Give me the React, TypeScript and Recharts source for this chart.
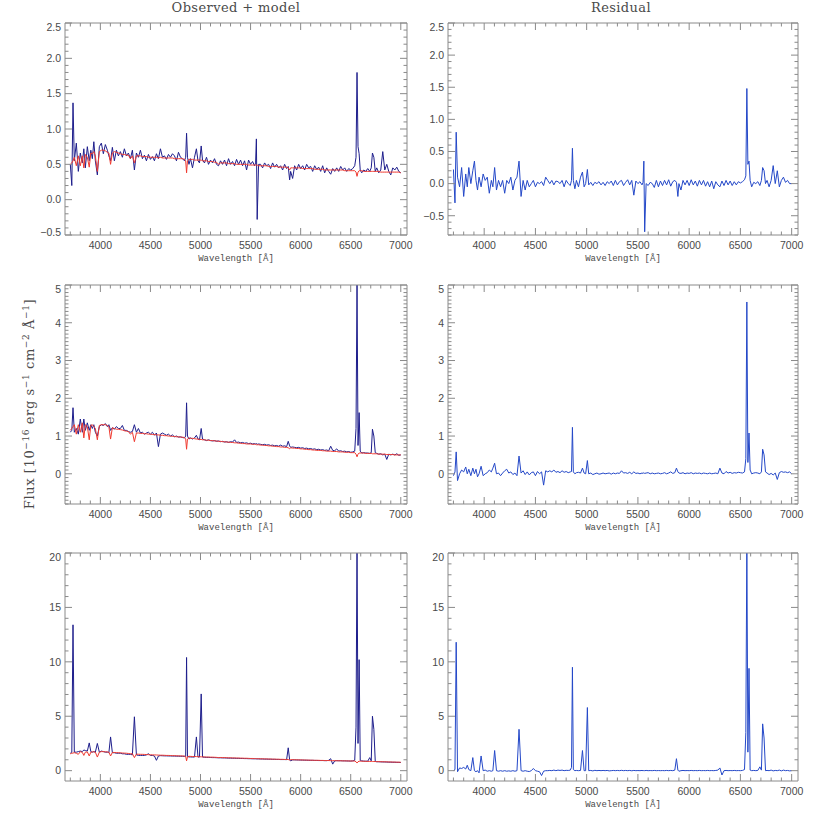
import { LineChart, Line, XAxis, YAxis } from 'recharts';

// wavelength grid (Angstrom), denser around the emission lines
const wave = [
  3700, 3715, 3727, 3740, 3760, 3780, 3800, 3820, 3835, 3850,
  3870, 3889, 3905, 3920, 3935, 3950, 3970, 3990, 4010, 4030,
  4050, 4070, 4085, 4102, 4120, 4140, 4160, 4180, 4200, 4220,
  4240, 4260, 4280, 4300, 4320, 4340, 4360, 4380, 4400, 4420,
  4440, 4460, 4480, 4500, 4520, 4540, 4560, 4580, 4600, 4620,
  4640, 4660, 4680, 4700, 4720, 4740, 4760, 4780, 4800, 4820,
  4840, 4852, 4861, 4870, 4885, 4900, 4920, 4940, 4959, 4975,
  4990, 5007, 5020, 5040, 5060, 5080, 5100, 5120, 5140, 5160,
  5180, 5200, 5220, 5240, 5260, 5280, 5300, 5320, 5340, 5360,
  5380, 5400, 5420, 5440, 5460, 5480, 5500, 5520, 5540, 5550,
  5558, 5566, 5580, 5600, 5620, 5640, 5660, 5680, 5700, 5720,
  5740, 5760, 5780, 5800, 5820, 5840, 5860, 5876, 5890, 5900,
  5920, 5940, 5960, 5980, 6000, 6020, 6040, 6060, 6080, 6100,
  6120, 6140, 6160, 6180, 6200, 6220, 6240, 6260, 6280, 6300,
  6320, 6340, 6360, 6380, 6400, 6420, 6440, 6460, 6480, 6500,
  6520, 6540, 6553, 6563, 6573, 6584, 6595, 6610, 6630, 6650,
  6670, 6690, 6705, 6717, 6731, 6745, 6760, 6780, 6800, 6820,
  6840, 6860, 6880, 6900, 6920, 6940, 6960, 6980, 7000,
];

// top row
const obs1 = [
  0.50, 0.20, 1.37, 0.55, 0.80, 0.40, 0.66, 0.52, 0.72, 0.45,
  0.75, 0.55, 0.70, 0.58, 0.82, 0.55, 0.35, 0.75, 0.80, 0.65,
  0.78, 0.70, 0.62, 0.55, 0.74, 0.55, 0.70, 0.62, 0.68, 0.60,
  0.72, 0.62, 0.66, 0.58, 0.70, 0.42, 0.66, 0.60, 0.70, 0.58,
  0.63, 0.55, 0.64, 0.57, 0.61, 0.55, 0.65, 0.58, 0.72, 0.60,
  0.62, 0.57, 0.64, 0.60, 0.65, 0.62, 0.55, 0.67, 0.60, 0.58,
  0.55, 0.60, 0.94, 0.60, 0.50, 0.58, 0.45, 0.60, 0.72, 0.55,
  0.52, 0.76, 0.56, 0.52, 0.60, 0.50, 0.56, 0.52, 0.58, 0.50,
  0.48, 0.55, 0.50, 0.56, 0.48, 0.58, 0.50, 0.54, 0.48, 0.57,
  0.50, 0.56, 0.48, 0.55, 0.42, 0.56, 0.50, 0.54, 0.48, 0.52,
  0.86, -0.28, 0.50, 0.50, 0.45, 0.52, 0.48, 0.50, 0.44, 0.52,
  0.46, 0.50, 0.45, 0.48, 0.42, 0.50, 0.44, 0.47, 0.28, 0.40,
  0.30, 0.48, 0.42, 0.50, 0.44, 0.48, 0.42, 0.50, 0.45, 0.47,
  0.40, 0.48, 0.43, 0.46, 0.40, 0.48, 0.38, 0.45, 0.40, 0.36,
  0.44, 0.40, 0.45, 0.40, 0.47, 0.42, 0.45, 0.40, 0.44, 0.42,
  0.44, 0.48, 0.60, 1.80, 0.75, 0.65, 0.42, 0.38, 0.42, 0.40,
  0.44, 0.40, 0.45, 0.66, 0.60, 0.40, 0.45, 0.38, 0.42, 0.68,
  0.42, 0.50, 0.40, 0.35, 0.45, 0.42, 0.46, 0.40, 0.38,
];
const mod1 = [
  0.50, 0.52, 0.55, 0.60, 0.48, 0.62, 0.48, 0.62, 0.45, 0.64,
  0.60, 0.46, 0.66, 0.65, 0.68, 0.62, 0.40, 0.68, 0.70, 0.70,
  0.69, 0.67, 0.66, 0.50, 0.66, 0.68, 0.67, 0.66, 0.65, 0.64,
  0.64, 0.63, 0.63, 0.58, 0.62, 0.52, 0.62, 0.62, 0.62, 0.61,
  0.61, 0.61, 0.60, 0.60, 0.60, 0.60, 0.60, 0.59, 0.60, 0.59,
  0.59, 0.59, 0.59, 0.59, 0.59, 0.58, 0.58, 0.58, 0.58, 0.58,
  0.57, 0.55, 0.38, 0.55, 0.57, 0.57, 0.57, 0.56, 0.56, 0.56,
  0.56, 0.56, 0.55, 0.55, 0.55, 0.54, 0.54, 0.54, 0.53, 0.53,
  0.50, 0.52, 0.52, 0.52, 0.52, 0.51, 0.51, 0.51, 0.51, 0.50,
  0.50, 0.50, 0.50, 0.50, 0.50, 0.49, 0.49, 0.49, 0.49, 0.49,
  0.49, 0.49, 0.48, 0.48, 0.48, 0.48, 0.48, 0.47, 0.47, 0.47,
  0.47, 0.47, 0.46, 0.46, 0.46, 0.46, 0.46, 0.45, 0.42, 0.45,
  0.45, 0.45, 0.45, 0.45, 0.45, 0.44, 0.44, 0.44, 0.44, 0.44,
  0.44, 0.43, 0.43, 0.43, 0.43, 0.43, 0.42, 0.42, 0.42, 0.42,
  0.42, 0.42, 0.42, 0.42, 0.42, 0.42, 0.41, 0.41, 0.41, 0.41,
  0.41, 0.41, 0.39, 0.33, 0.39, 0.41, 0.41, 0.41, 0.40, 0.40,
  0.40, 0.40, 0.40, 0.40, 0.40, 0.40, 0.40, 0.40, 0.39, 0.39,
  0.39, 0.39, 0.39, 0.39, 0.39, 0.39, 0.39, 0.39, 0.38,
];
const res1 = [
  0.22, -0.30, 0.80, 0.10, -0.05, 0.25, -0.20, 0.15, -0.05, 0.25,
  0.00, 0.20, 0.35, 0.05, -0.10, 0.10, -0.05, 0.15, 0.05, 0.10,
  -0.15, 0.05, -0.05, 0.25, -0.10, 0.05, -0.05, 0.05, -0.15, 0.05,
  0.00, 0.10, -0.10, 0.05, 0.10, 0.35, -0.20, 0.05, -0.10, 0.05,
  -0.05, 0.00, 0.05, -0.05, 0.02, 0.00, 0.03, -0.03, 0.10, 0.05,
  0.00, 0.05, -0.02, 0.04, 0.03, 0.00, 0.05, -0.05, 0.05, 0.00,
  -0.03, 0.05, 0.55, 0.05, -0.08, 0.05, -0.05, 0.10, 0.18, -0.05,
  0.00, 0.22, -0.02, 0.02, -0.03, 0.02, 0.00, 0.03, -0.02, 0.02,
  -0.03, 0.03, 0.00, 0.04, -0.03, 0.05, -0.02, 0.03, 0.05, -0.03,
  0.02, 0.06, -0.02, 0.05, -0.18, 0.04, 0.00, 0.03, -0.02, 0.02,
  0.35, -0.75, 0.00, -0.03, 0.02, 0.00, -0.06, 0.05, -0.05, 0.04,
  -0.03, 0.05, -0.02, 0.06, -0.04, 0.03, 0.05, 0.02, -0.20, 0.00,
  -0.10, 0.05, -0.02, 0.05, -0.03, 0.06, -0.02, 0.04, -0.04, 0.05,
  -0.02, 0.05, -0.04, 0.03, -0.05, 0.04, -0.08, 0.03, -0.02, -0.05,
  0.04, -0.03, 0.05, -0.02, 0.04, -0.03, 0.03, -0.02, 0.03, 0.01,
  0.03, 0.06, 0.12, 1.48, 0.30, 0.35, 0.05, -0.05, 0.02, 0.00,
  0.03, -0.03, 0.05, 0.25, 0.20, 0.00, 0.05, -0.05, 0.05, 0.28,
  0.00, 0.20, -0.05, 0.05, 0.10, 0.02, 0.05, 0.00, 0.00,
];

// middle row
const obs2 = [
  1.10, 1.15, 1.75, 1.10, 1.20, 1.05, 1.45, 1.10, 1.45, 1.15,
  1.35, 1.15, 1.30, 1.20, 1.30, 1.10, 1.00, 1.25, 1.30, 1.28,
  1.33, 1.25, 1.30, 1.15, 1.22, 1.18, 1.25, 1.20, 1.20, 1.28,
  1.15, 1.15, 1.12, 1.10, 1.12, 1.30, 1.10, 1.20, 1.08, 1.10,
  1.05, 1.08, 1.10, 1.05, 1.10, 1.02, 1.08, 0.72, 1.05, 1.08,
  1.05, 1.02, 1.05, 1.00, 1.03, 0.98, 1.00, 0.97, 0.98, 0.96,
  0.95, 1.00, 1.88, 1.00, 0.92, 0.95, 0.92, 0.95, 1.02, 0.92,
  0.90, 1.20, 0.92, 0.90, 0.88, 0.90, 0.88, 0.87, 0.88, 0.86,
  0.87, 0.85, 0.86, 0.84, 0.85, 0.83, 0.85, 0.84, 0.90, 0.83,
  0.84, 0.82, 0.83, 0.81, 0.82, 0.80, 0.81, 0.79, 0.80, 0.79,
  0.80, 0.78, 0.79, 0.78, 0.77, 0.78, 0.76, 0.77, 0.75, 0.76,
  0.74, 0.75, 0.73, 0.76, 0.73, 0.74, 0.72, 0.86, 0.74, 0.70,
  0.71, 0.70, 0.69, 0.70, 0.68, 0.69, 0.67, 0.68, 0.66, 0.67,
  0.65, 0.66, 0.64, 0.65, 0.63, 0.64, 0.62, 0.63, 0.61, 0.73,
  0.62, 0.61, 0.66, 0.60, 0.61, 0.59, 0.60, 0.58, 0.59, 0.57,
  0.58, 0.60, 1.20, 5.05, 0.75, 1.62, 0.60, 0.55, 0.56, 0.55,
  0.55, 0.54, 0.56, 1.18, 1.00, 0.56, 0.54, 0.52, 0.53, 0.50,
  0.52, 0.38, 0.52, 0.50, 0.52, 0.50, 0.53, 0.49, 0.50,
];
const mod2 = [
  1.15, 1.20, 1.25, 1.30, 1.05, 1.30, 1.10, 1.35, 0.95, 1.30,
  1.25, 0.90, 1.28, 1.30, 1.25, 1.20, 0.90, 1.28, 1.30, 1.30,
  1.30, 1.28, 1.25, 0.92, 1.22, 1.20, 1.18, 1.18, 1.17, 1.16,
  1.14, 1.13, 1.12, 1.05, 1.10, 0.85, 1.08, 1.08, 1.07, 1.07,
  1.06, 1.06, 1.05, 1.05, 1.04, 1.04, 1.03, 1.03, 1.02, 1.02,
  1.01, 1.01, 1.00, 1.00, 0.99, 0.99, 0.98, 0.98, 0.97, 0.97,
  0.96, 0.92, 0.65, 0.92, 0.95, 0.94, 0.94, 0.93, 0.92, 0.92,
  0.91, 0.91, 0.90, 0.90, 0.89, 0.89, 0.88, 0.88, 0.87, 0.87,
  0.86, 0.86, 0.85, 0.85, 0.84, 0.84, 0.83, 0.83, 0.82, 0.82,
  0.81, 0.81, 0.80, 0.80, 0.79, 0.79, 0.79, 0.78, 0.78, 0.78,
  0.77, 0.77, 0.77, 0.76, 0.76, 0.75, 0.75, 0.74, 0.74, 0.73,
  0.73, 0.72, 0.72, 0.71, 0.71, 0.70, 0.70, 0.69, 0.66, 0.69,
  0.68, 0.68, 0.67, 0.67, 0.66, 0.66, 0.65, 0.65, 0.64, 0.64,
  0.63, 0.63, 0.62, 0.62, 0.62, 0.61, 0.61, 0.60, 0.60, 0.60,
  0.59, 0.59, 0.59, 0.58, 0.58, 0.58, 0.57, 0.57, 0.57, 0.56,
  0.56, 0.56, 0.52, 0.45, 0.52, 0.55, 0.55, 0.55, 0.55, 0.54,
  0.54, 0.54, 0.54, 0.53, 0.53, 0.53, 0.53, 0.52, 0.52, 0.52,
  0.52, 0.51, 0.51, 0.51, 0.51, 0.50, 0.50, 0.50, 0.50,
];
const res2 = [
  -0.05, 0.05, 0.58, -0.18, 0.00, 0.10, 0.05, 0.18, 0.00, 0.12,
  -0.05, 0.15, 0.00, 0.12, -0.08, 0.00, 0.20, -0.05, 0.00, 0.03,
  0.10, 0.05, 0.15, 0.28, 0.00, 0.02, -0.05, 0.02, 0.08, 0.12,
  0.02, 0.05, -0.02, 0.02, -0.05, 0.47, 0.02, 0.08, -0.02, 0.05,
  -0.03, 0.03, 0.05, -0.05, 0.06, 0.00, 0.05, -0.30, 0.08, 0.05,
  0.08, 0.05, 0.10, 0.04, 0.06, 0.03, 0.08, 0.04, 0.06, 0.03,
  0.05, 0.06, 1.23, 0.05, 0.00, 0.03, 0.04, 0.02, 0.15, 0.02,
  0.00, 0.35, 0.00, 0.02, -0.02, 0.00, 0.02, -0.01, 0.00, 0.02,
  0.00, 0.01, 0.02, -0.01, 0.02, 0.00, 0.02, 0.01, 0.08, 0.02,
  0.03, 0.01, 0.04, 0.00, 0.05, 0.01, 0.02, 0.00, 0.02, 0.01,
  0.03, 0.01, 0.02, 0.03, 0.00, 0.02, 0.00, 0.01, 0.02, 0.00,
  0.01, 0.03, 0.00, 0.02, 0.05, 0.01, 0.03, 0.15, 0.05, 0.02,
  0.01, 0.03, 0.00, 0.02, 0.01, 0.03, 0.00, 0.02, 0.01, 0.02,
  0.00, 0.02, 0.01, 0.00, 0.02, 0.00, 0.01, 0.02, 0.00, 0.15,
  0.02, 0.00, 0.06, 0.02, 0.04, 0.01, 0.03, 0.02, 0.04, 0.03,
  0.02, 0.05, 0.40, 4.55, 0.30, 1.08, 0.10, 0.00, 0.02, 0.03,
  0.02, 0.00, 0.05, 0.65, 0.50, 0.05, 0.02, -0.02, 0.01, -0.03,
  0.02, -0.15, 0.03, 0.06, 0.04, 0.05, 0.03, 0.05, 0.00,
];

// bottom row
const obs3 = [
  1.60, 1.70, 13.40, 1.70, 1.70, 1.75, 1.80, 1.75, 1.90, 1.85,
  1.80, 2.55, 1.75, 1.70, 1.75, 1.70, 2.50, 1.70, 1.80, 1.75,
  1.70, 1.70, 1.65, 3.10, 1.65, 1.65, 1.60, 1.60, 1.60, 1.55,
  1.55, 1.50, 1.50, 1.50, 1.45, 4.95, 1.45, 1.40, 1.40, 1.40,
  1.40, 1.45, 1.55, 1.40, 1.40, 1.35, 0.95, 1.35, 1.38, 1.37,
  1.36, 1.36, 1.35, 1.35, 1.34, 1.34, 1.33, 1.33, 1.32, 1.32,
  1.31, 1.30, 10.40, 1.30, 1.26, 1.26, 1.25, 1.25, 3.10, 1.25,
  1.25, 7.05, 1.25, 1.23, 1.22, 1.22, 1.21, 1.20, 1.20, 1.19,
  1.18, 1.18, 1.17, 1.17, 1.16, 1.15, 1.15, 1.14, 1.14, 1.13,
  1.13, 1.12, 1.12, 1.11, 1.11, 1.10, 1.10, 1.09, 1.09, 1.09,
  1.08, 1.08, 1.08, 1.07, 1.07, 1.06, 1.06, 1.05, 1.05, 1.04,
  1.04, 1.03, 1.03, 1.02, 1.02, 1.02, 1.01, 2.10, 1.00, 0.90,
  0.99, 0.99, 0.98, 0.98, 0.97, 0.97, 0.96, 0.96, 0.95, 0.95,
  0.95, 0.94, 0.94, 0.93, 0.93, 0.93, 0.92, 0.92, 0.95, 1.10,
  0.60, 0.90, 0.92, 0.91, 0.91, 0.90, 0.90, 0.89, 0.89, 0.88,
  0.90, 0.95, 4.00, 21.00, 2.50, 10.20, 0.95, 0.90, 0.88, 0.87,
  0.87, 1.20, 0.90, 5.00, 3.80, 0.85, 0.82, 0.82, 0.81, 0.80,
  0.80, 0.79, 0.78, 0.78, 0.77, 0.77, 0.76, 0.76, 0.75,
];
const mod3 = [
  1.55, 1.60, 1.62, 1.65, 1.60, 1.50, 1.75, 1.68, 1.40, 1.70,
  1.72, 1.35, 1.70, 1.72, 1.74, 1.70, 1.25, 1.70, 1.75, 1.75,
  1.73, 1.72, 1.70, 1.35, 1.68, 1.67, 1.66, 1.65, 1.64, 1.62,
  1.61, 1.60, 1.58, 1.55, 1.56, 1.20, 1.52, 1.51, 1.50, 1.50,
  1.49, 1.48, 1.47, 1.46, 1.45, 1.45, 1.44, 1.43, 1.42, 1.42,
  1.41, 1.40, 1.40, 1.39, 1.38, 1.38, 1.37, 1.36, 1.36, 1.35,
  1.34, 1.30, 0.90, 1.28, 1.32, 1.31, 1.30, 1.30, 1.29, 1.28,
  1.28, 1.27, 1.27, 1.26, 1.25, 1.25, 1.24, 1.24, 1.23, 1.22,
  1.20, 1.21, 1.20, 1.20, 1.19, 1.18, 1.18, 1.17, 1.17, 1.16,
  1.16, 1.15, 1.15, 1.14, 1.14, 1.13, 1.12, 1.12, 1.11, 1.11,
  1.11, 1.10, 1.10, 1.09, 1.09, 1.08, 1.08, 1.07, 1.07, 1.06,
  1.06, 1.05, 1.05, 1.04, 1.04, 1.03, 1.03, 1.02, 0.98, 1.01,
  1.01, 1.00, 1.00, 0.99, 0.99, 0.98, 0.98, 0.97, 0.97, 0.96,
  0.96, 0.95, 0.95, 0.95, 0.94, 0.94, 0.93, 0.93, 0.93, 0.92,
  0.92, 0.92, 0.91, 0.91, 0.91, 0.90, 0.90, 0.90, 0.89, 0.89,
  0.89, 0.88, 0.82, 0.70, 0.82, 0.87, 0.87, 0.87, 0.86, 0.86,
  0.85, 0.85, 0.85, 0.84, 0.84, 0.84, 0.83, 0.83, 0.82, 0.82,
  0.81, 0.81, 0.80, 0.80, 0.79, 0.79, 0.78, 0.78, 0.77,
];
const res3 = [
  0.00, 0.10, 11.80, -0.10, 0.25, 0.20, 0.30, 0.15, 0.50, 0.10,
  0.00, 1.20, 0.00, -0.10, 0.00, -0.20, 1.35, 0.00, 0.05, -0.05,
  0.00, -0.05, 0.00, 1.85, 0.00, -0.05, 0.00, -0.05, 0.00, -0.05,
  -0.02, -0.05, 0.00, -0.05, 0.00, 3.80, 0.00, -0.05, 0.00, -0.05,
  -0.08, 0.00, 0.20, 0.00, -0.05, -0.10, -0.45, -0.05, 0.00, 0.00,
  0.02, 0.00, 0.05, 0.00, 0.05, 0.02, 0.05, 0.00, 0.03, 0.02,
  0.05, 0.30, 9.50, 0.10, 0.00, 0.02, 0.00, 0.02, 1.85, 0.00,
  0.00, 5.80, 0.00, 0.02, -0.02, 0.03, 0.00, 0.02, 0.00, 0.02,
  0.00, 0.02, -0.02, 0.00, 0.02, 0.00, 0.02, 0.00, 0.03, 0.00,
  0.02, 0.00, 0.02, -0.01, 0.02, 0.00, 0.01, 0.00, 0.02, 0.00,
  0.01, 0.00, 0.02, 0.00, 0.01, 0.00, 0.02, 0.00, 0.01, 0.00,
  0.01, 0.00, 0.02, 0.00, 0.02, 0.00, 0.05, 1.10, 0.05, -0.05,
  0.00, 0.02, 0.00, 0.01, 0.00, 0.02, 0.00, 0.01, 0.00, 0.02,
  0.00, 0.01, 0.00, 0.02, 0.00, 0.01, 0.00, 0.02, 0.05, 0.25,
  -0.40, 0.00, 0.02, 0.00, 0.01, 0.00, 0.02, 0.00, 0.01, 0.00,
  0.02, 0.10, 3.50, 21.00, 1.70, 9.40, 0.05, 0.00, 0.02, 0.00,
  0.02, 0.35, 0.05, 4.30, 3.00, 0.00, 0.02, 0.00, 0.05, -0.02,
  0.02, 0.00, 0.05, -0.02, 0.05, 0.00, 0.02, -0.02, 0.00,
];

const xTicks = [
  3700, 3800, 3900, 4000, 4100, 4200, 4300, 4400, 4500, 4600, 4700, 4800,
  4900, 5000, 5100, 5200, 5300, 5400, 5500, 5600, 5700, 5800, 5900, 6000,
  6100, 6200, 6300, 6400, 6500, 6600, 6700, 6800, 6900, 7000,
];
const xMajor = [4000, 4500, 5000, 5500, 6000, 6500, 7000];
const yMajorTop = [-0.5, 0, 0.5, 1, 1.5, 2, 2.5];
const yMajorMid = [0, 1, 2, 3, 4, 5];
const yMajorBot = [0, 5, 10, 15, 20];

const X_DOMAIN: [number, number] = [3647, 7062];

const AXIS = '#8a8a8a';
const TEXT = '#4a4a4a';
const OBS = '#1e1e8c';
const MOD = '#f03a30';
const RES = '#2448c8';

// minor tick positions between lo and hi
function minorTicks(lo: number, hi: number, step: number) {
  const out: number[] = [];
  for (let k = Math.ceil(lo / step - 1e-9); k * step <= hi + 1e-9; k++) {
    out.push(Math.round(k * step * 1000) / 1000);
  }
  return out;
}

const fmt1 = (v: number) => (v < 0 ? '\u2212' : '') + Math.abs(v).toFixed(1);
const fmt0 = (v: number) => String(v);

const row1 = wave.map((w, i) => ({ w, obs: obs1[i], mod: mod1[i], res: res1[i] }));
const row2 = wave.map((w, i) => ({ w, obs: obs2[i], mod: mod2[i], res: res2[i] }));
const row3 = wave.map((w, i) => ({ w, obs: obs3[i], mod: mod3[i], res: res3[i] }));

type PanelProps = {
  left: number;
  top: number;
  w: number;
  h: number;
  data: any[];
  yDomain: [number, number];
  yMinor: number;
  yMajor: number[];
  fmt: (v: number) => string;
  series: { key: string; color: string }[];
};

function Panel({ left, top, w, h, data, yDomain, yMinor, yMajor, fmt, series }: PanelProps) {
  const yTicks = minorTicks(yDomain[0], yDomain[1], yMinor);
  const isMajorX = (v: number) => xMajor.includes(v);
  const isMajorY = (v: number) => yMajor.some((m) => Math.abs(m - v) < 1e-6);
  const tickFont = { fontFamily: 'Liberation Sans, Arial, sans-serif', fontSize: 10.5, fill: TEXT };

  const bottomTick = (p: any) => {
    const v = p.payload.value;
    const major = isMajorX(v);
    return (
      <g>
        <line x1={p.x} x2={p.x} y1={p.y} y2={p.y - (major ? 7 : 3.5)} stroke={AXIS} />
        {major && (
          <text x={p.x} y={p.y + 13.5} textAnchor="middle" {...tickFont}>
            {v}
          </text>
        )}
      </g>
    );
  };
  const topTick = (p: any) => {
    const major = isMajorX(p.payload.value);
    return <line x1={p.x} x2={p.x} y1={p.y} y2={p.y + (major ? 7 : 3.5)} stroke={AXIS} />;
  };
  const leftTick = (p: any) => {
    const v = p.payload.value;
    const major = isMajorY(v);
    let dy = 3.8;
    if (Math.abs(v - yDomain[1]) < 1e-6) dy += 4;
    if (Math.abs(v - yDomain[0]) < 1e-6) dy -= 2.5;
    return (
      <g>
        <line x1={p.x} x2={p.x + (major ? 7 : 3.5)} y1={p.y} y2={p.y} stroke={AXIS} />
        {major && (
          <text x={p.x - 4} y={p.y + dy} textAnchor="end" {...tickFont}>
            {fmt(v)}
          </text>
        )}
      </g>
    );
  };
  const rightTick = (p: any) => {
    const major = isMajorY(p.payload.value);
    return <line x1={p.x} x2={p.x - (major ? 7 : 3.5)} y1={p.y} y2={p.y} stroke={AXIS} />;
  };

  const common = { tickSize: 0, tickMargin: 0, tickLine: false, interval: 0 as const, axisLine: { stroke: AXIS } };

  return (
    <div style={{ position: 'absolute', left: left - 60, top: top - 10 }}>
      <LineChart width={w + 70} height={h + 40} data={data} margin={{ top: 0, right: 0, bottom: 0, left: 0 }}>
        <XAxis xAxisId="b" dataKey="w" type="number" domain={X_DOMAIN} allowDataOverflow ticks={xTicks} height={30} tick={bottomTick} {...common} />
        <XAxis xAxisId="t" orientation="top" dataKey="w" type="number" domain={X_DOMAIN} allowDataOverflow ticks={xTicks} height={10} tick={topTick} {...common} />
        <YAxis yAxisId="l" type="number" domain={yDomain} allowDataOverflow ticks={yTicks} width={60} tick={leftTick} {...common} />
        <YAxis yAxisId="r" orientation="right" type="number" domain={yDomain} allowDataOverflow ticks={yTicks} width={10} tick={rightTick} {...common} />
        {series.map((s) => (
          <Line
            key={s.key}
            xAxisId="b"
            yAxisId="l"
            type="linear"
            dataKey={s.key}
            stroke={s.color}
            strokeWidth={1}
            dot={false}
            isAnimationActive={false}
          />
        ))}
      </LineChart>
    </div>
  );
}

const LEFT = { left: 65, w: 342 };
const RIGHT = { left: 448, w: 350 };
const ROWS = [
  { top: 23, h: 212 },
  { top: 285, h: 219 },
  { top: 553, h: 228 },
];

export default function App() {
  const serif = 'DejaVu Serif, serif';
  const mono = 'Liberation Mono, monospace';
  return (
    <div style={{ position: 'absolute', left: 0, top: 0, width: 814, height: 814, background: '#fff' }}>
      <Panel {...LEFT} {...ROWS[0]} data={row1} yDomain={[-0.5, 2.5]} yMinor={0.1} yMajor={yMajorTop} fmt={fmt1}
        series={[{ key: 'obs', color: OBS }, { key: 'mod', color: MOD }]} />
      <Panel {...RIGHT} {...ROWS[0]} data={row1} yDomain={[-0.8, 2.5]} yMinor={0.1} yMajor={yMajorTop} fmt={fmt1}
        series={[{ key: 'res', color: RES }]} />
      <Panel {...LEFT} {...ROWS[1]} data={row2} yDomain={[-0.8, 5]} yMinor={0.1} yMajor={yMajorMid} fmt={fmt0}
        series={[{ key: 'obs', color: OBS }, { key: 'mod', color: MOD }]} />
      <Panel {...RIGHT} {...ROWS[1]} data={row2} yDomain={[-0.8, 5]} yMinor={0.1} yMajor={yMajorMid} fmt={fmt0}
        series={[{ key: 'res', color: RES }]} />
      <Panel {...LEFT} {...ROWS[2]} data={row3} yDomain={[-0.95, 20]} yMinor={1} yMajor={yMajorBot} fmt={fmt0}
        series={[{ key: 'obs', color: OBS }, { key: 'mod', color: MOD }]} />
      <Panel {...RIGHT} {...ROWS[2]} data={row3} yDomain={[-0.95, 20]} yMinor={1} yMajor={yMajorBot} fmt={fmt0}
        series={[{ key: 'res', color: RES }]} />

      <svg width={814} height={814} style={{ position: 'absolute', left: 0, top: 0, pointerEvents: 'none' }}>
        <text x={236} y={11.5} textAnchor="middle" fontFamily={serif} fontSize={13} fill={TEXT} letterSpacing={0.4}>
          Observed + model
        </text>
        <text x={621} y={11.5} textAnchor="middle" fontFamily={serif} fontSize={13} fill={TEXT} letterSpacing={0.4}>
          Residual
        </text>
        {ROWS.map((r, i) => (
          <g key={i}>
            <text x={LEFT.left + LEFT.w / 2} y={r.top + r.h + 26} textAnchor="middle" fontFamily={mono} fontSize={9} fill={TEXT}>
              Wavelength [Å]
            </text>
            <text x={RIGHT.left + RIGHT.w / 2} y={r.top + r.h + 26} textAnchor="middle" fontFamily={mono} fontSize={9} fill={TEXT}>
              Wavelength [Å]
            </text>
          </g>
        ))}
        <text transform="translate(34,404) rotate(-90)" textAnchor="middle" fontFamily={serif} fontSize={13} fill={TEXT} letterSpacing={0.6}>
          Flux [10<tspan dy={-5} fontSize={9}>−16</tspan>
          <tspan dy={5}> erg s</tspan>
          <tspan dy={-5} fontSize={9}>−1</tspan>
          <tspan dy={5}> cm</tspan>
          <tspan dy={-5} fontSize={9}>−2</tspan>
          <tspan dy={5}> Å</tspan>
          <tspan dy={-5} fontSize={9}>−1</tspan>
          <tspan dy={5}>]</tspan>
        </text>
      </svg>
    </div>
  );
}
